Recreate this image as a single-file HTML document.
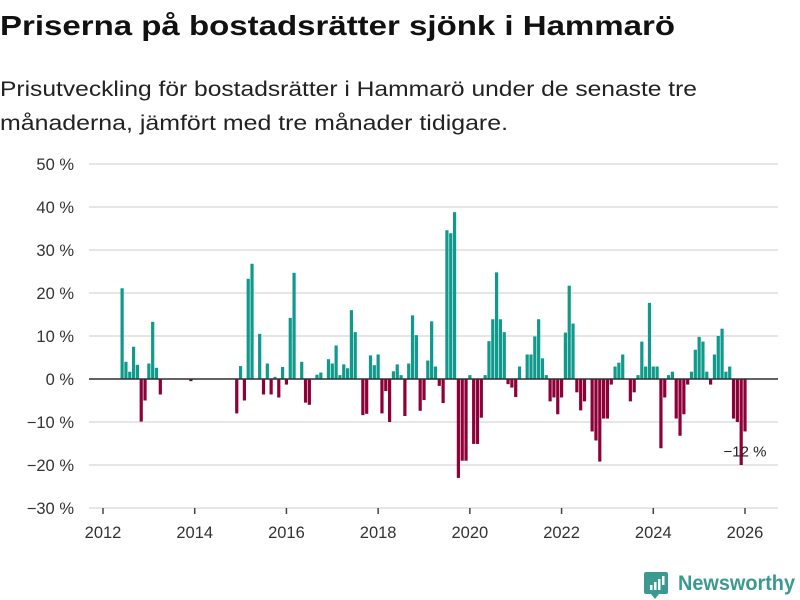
<!DOCTYPE html>
<html><head><meta charset="utf-8"><style>
body{margin:0;background:#fff;width:800px;height:600px;overflow:hidden;font-family:"Liberation Sans",sans-serif;}
svg{position:absolute;left:0;top:0}
</style></head><body>
<svg width="800" height="600" id="svg">
<text x="0" y="35" font-size="28" font-weight="bold" fill="#111" textLength="675" lengthAdjust="spacingAndGlyphs">Priserna på bostadsrätter sjönk i Hammarö</text>
<text x="0" y="96" font-size="21" fill="#222" textLength="697" lengthAdjust="spacingAndGlyphs">Prisutveckling för bostadsrätter i Hammarö under de senaste tre</text>
<text x="0" y="130" font-size="21" fill="#222" textLength="508" lengthAdjust="spacingAndGlyphs">månaderna, jämfört med tre månader tidigare.</text>
<g id="grid"></g><g id="bars"></g><g id="axes"></g>
<g>
<path d="M646 572 h20 a2 2 0 0 1 2 2 v18 a2 2 0 0 1 -2 2 h-7 l-4 5 l-4 -5 h-5 a2 2 0 0 1 -2 -2 v-18 a2 2 0 0 1 2 -2z" fill="#3a9a8f"/>
<rect x="650" y="585" width="2.5" height="5" fill="#fff"/><rect x="654" y="582" width="2.5" height="8" fill="#fff"/><rect x="658" y="579" width="2.5" height="11" fill="#fff"/><rect x="662" y="576" width="2.5" height="9" fill="#fff"/>
<text x="678" y="590" font-size="21" font-weight="bold" fill="#3a9a8f" textLength="117" lengthAdjust="spacingAndGlyphs">Newsworthy</text>
</g>
</svg>
<script>
const yTicks=[50,40,30,20,10,0,-10,-20,-30];
const yTickLabels=["50 %","40 %","30 %","20 %","10 %","0 %","−10 %","−20 %","−30 %"];
const xTicks=[2012,2014,2016,2018,2020,2022,2024,2026];
const startMonth=5; // months since Jan 2012
const values=[21.1,4,1.7,7.5,3.3,-9.9,-5,3.6,13.3,2.6,-3.6,null,null,null,null,null,null,null,-0.5,
null,null,null,null,null,null,null,null,null,null,null,-8,3,-5,23.3,26.8,null,10.5,-3.6,3.6,-3.6,0.5,-4.3,2.8,-1.3,14.2,24.7,null,4,-5.5,-6,null,1,1.5,null,4.6,
3.6,7.8,0.9,3.4,2.5,16,10.9,null,-8.4,-8.1,5.5,3.2,5.7,-8,-2.8,-10,1.8,3.4,0.9,-8.6,3.6,14.8,10.2,-7.4,-4.9,4.3,13.4,2.9,-1.6,-5.6,34.6,33.9,38.8,-23,-19,-19,0.9,-15.1,-15.1,-9,0.9,8.8,13.9,24.8,13.9,10.9,-1.2,-2,-4.2,2.9,null,5.7,5.7,9.9,13.9,4.8,0.9,-5.2,-4.3,-8.2,-4.3,10.8,21.7,12.9,-3.1,-7.3,-5.2,null,-12.2,-14.3,-19.2,-9.2,-9.2,-1.3,2.9,3.8,5.7,null,-5.2,-3.1,0.9,8.7,2.9,17.7,2.9,2.9,-16.1,-4.3,0.9,1.7,-9.2,-13.2,-8.2,-1.3,1.7,6.8,9.8,8.7,1.7,-1.3,5.7,10,11.7,1.7,2.9,-9.2,-10,-20,-12.2];
const lastLabel="−12 %";
const NS="http://www.w3.org/2000/svg";
function y(v){return 379-v*4.3;}
function xm(m){return 103+m*(642/168);}
function mk(tag,attrs,parent){const e=document.createElementNS(NS,tag);for(const k in attrs)e.setAttribute(k,attrs[k]);document.getElementById(parent).appendChild(e);return e;}
yTicks.forEach((t,i)=>{
  const l=mk('line',{x1:89,x2:778,y1:y(t),y2:y(t),stroke:'#ddd','stroke-width':1.5},'grid');
  
  
  const tx=mk('text',{x:74,y:y(t)+6,'text-anchor':'end','font-size':16.5,fill:'#333'},'axes');
  tx.textContent=yTickLabels[i];
  
  
});
xTicks.forEach(yr=>{
  const x=xm((yr-2012)*12);
  const l=mk('line',{x1:x,x2:x,y1:508,y2:514,stroke:'#444','stroke-width':1.5},'axes');
  
  
  const tx=mk('text',{x:x,y:538,'text-anchor':'middle','font-size':16.5,fill:'#333'},'axes');
  tx.textContent=yr;
  
  
});
let lastX=0,lastV=0;
values.forEach((v,i)=>{
  if(v===null)return;
  const cx=xm(startMonth+i);
  const r=mk('rect',{x:cx-1.6,width:3.2,y:Math.min(y(v),y(0)),height:Math.abs(y(v)-y(0)),fill:v>=0?'#0f9a8c':'#8e0038'},'bars');
  
  
  lastX=cx;lastV=v;
});
const zl=mk('line',{x1:89,x2:778,y1:y(0),y2:y(0),stroke:'#333','stroke-width':1.5},'axes');


const lb=mk('text',{x:lastX,y:y(lastV)+25,'text-anchor':'middle','font-size':15,fill:'#222'},'axes');
lb.textContent=lastLabel;


</script>
</body></html>
